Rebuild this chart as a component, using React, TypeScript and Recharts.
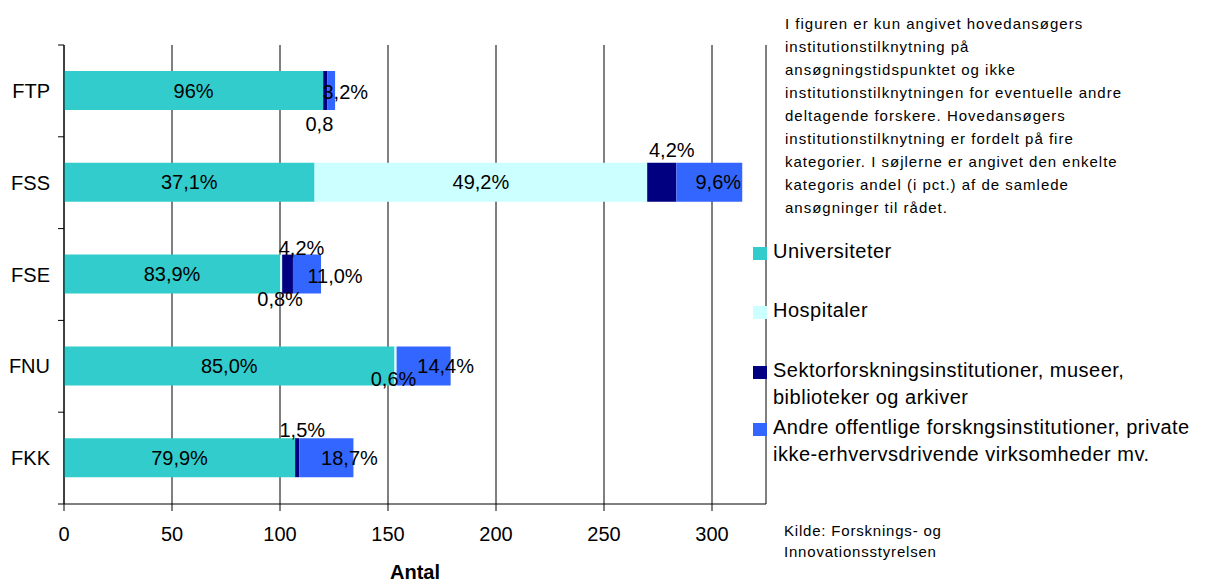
import React from 'react';
import { BarChart, Bar, XAxis, YAxis, CartesianGrid, LabelList, Label } from 'recharts';

// Data (Antal ansøgninger per råd)
const categories = ['FTP', 'FSS', 'FSE', 'FNU', 'FKK'];
const universiteter = [120, 116, 100, 153, 107];
const hospitaler = [0, 154, 1, 1, 0];
const sektor = [2, 13.5, 5, 0, 2];
const andre = [3.5, 30.5, 13, 25, 25];

// Percent labels as printed in the bars
const universiteterLabels = ['96%', '37,1%', '83,9%', '85,0%', '79,9%'];
const hospitalerLabels = ['', '49,2%', '0,8%', '0,6%', ''];
const sektorLabels = ['0,8', '4,2%', '4,2%', '', '1,5%'];
const andreLabels = ['3,2%', '9,6%', '11,0%', '14,4%', '18,7%'];

const xTicks = [0, 50, 100, 150, 200, 250, 300];
const xMax = 325;

const seriesNames = [
  'Universiteter',
  'Hospitaler',
  'Sektorforskningsinstitutioner, museer,\nbiblioteker og arkiver',
  'Andre offentlige forskngsinstitutioner, private\nikke-erhvervsdrivende virksomheder mv.',
];

const noteLines = [
  'I figuren er kun angivet hovedansøgers',
  'institutionstilknytning på',
  'ansøgningstidspunktet og ikke',
  'institutionstilknytningen for eventuelle andre',
  'deltagende forskere. Hovedansøgers',
  'institutionstilknytning er fordelt på fire',
  'kategorier. I søjlerne er angivet den enkelte',
  'kategoris andel (i pct.) af de samlede',
  'ansøgninger til rådet.',
];
const sourceLines = ['Kilde: Forsknings- og', 'Innovationsstyrelsen'];

const FONT = '"Liberation Sans", Arial, sans-serif';
const COLORS = ['#33CCCC', '#CCFFFF', '#000080', '#3366FF'];

// manual nudges for the small segment labels (like the moved labels in the original)
const labelNudge: Record<string, [number, number]> = {
  'hosp-2': [-1, 25],
  'hosp-3': [-2, 13],
  'sektor-0': [-6, 33],
  'sektor-1': [10, -32],
  'sektor-2': [14, -26],
  'sektor-4': [5, -28],
  'andre-0': [14, 1],
  'andre-1': [9, 0],
  'andre-2': [28, 2],
  'andre-3': [22, 0],
  'andre-4': [23, 0],
};

const series = [
  { key: 'univ', values: universiteter, labels: universiteterLabels },
  { key: 'hosp', values: hospitaler, labels: hospitalerLabels },
  { key: 'sektor', values: sektor, labels: sektorLabels },
  { key: 'andre', values: andre, labels: andreLabels },
].map((s, i) => ({ ...s, name: seriesNames[i], color: COLORS[i] }));

const data = categories.map((name, i) => {
  const row: any = { name, idx: String(i) };
  series.forEach((s) => { row[s.key] = s.values[i]; });
  return row;
});

const W = 1206;
const H = 585;
const TOP = 45;
const X_AXIS_H = 81;
const Y_TICK_SIZE = 6;
const Y_TICK_MARGIN = 8;

// value of the LabelList is the category index, so zero-width segments don't shift things
const makeSegLabel = (key: string, labels: string[]) => (props: any) => {
  const vb = props.viewBox || props;
  const idx = Number(props.value);
  const text = labels[idx];
  if (!text) return null;
  const x = Number(vb.x);
  const y = Number(vb.y);
  const w = Number(vb.width);
  const h = Number(vb.height);
  const [dx, dy] = labelNudge[`${key}-${idx}`] || [0, 0];
  return (
    <text
      x={x + w / 2 + dx}
      y={y + h / 2 + dy}
      dy="0.35em"
      textAnchor="middle"
      fontSize={20}
      fontFamily={FONT}
      fill="#000"
    >
      {text}
    </text>
  );
};

const CategoryTick = (props: any) => {
  const { x, y, payload, index } = props;
  const half = payload && payload.offset ? payload.offset : (H - TOP - X_AXIS_H) / categories.length / 2;
  const axisX = x + Y_TICK_SIZE + Y_TICK_MARGIN;
  return (
    <g>
      <text x={x} y={y} dy="0.355em" textAnchor="end" fontSize={20} fontFamily={FONT} fill="#000">
        {payload.value}
      </text>
      <line x1={axisX - Y_TICK_SIZE} x2={axisX} y1={y - half} y2={y - half} stroke="#000" />
      {index === categories.length - 1 && (
        <line x1={axisX - Y_TICK_SIZE} x2={axisX} y1={y + half} y2={y + half} stroke="#000" />
      )}
    </g>
  );
};

const legendTops = [238, 297, 357, 414];

export default function App() {
  return (
    <div style={{ position: 'absolute', left: 0, top: 0, width: W, height: H, background: '#fff', fontFamily: FONT }}>
      <BarChart
        width={W}
        height={H}
        data={data}
        layout="vertical"
        margin={{ top: TOP, right: 440, left: 4, bottom: 0 }}
        barSize={39}
      >
        <CartesianGrid horizontal={false} stroke="#000" strokeDasharray="" />
        <XAxis
          type="number"
          domain={[0, xMax]}
          ticks={xTicks}
          height={X_AXIS_H}
          tickSize={7}
          tickMargin={16}
          axisLine={{ stroke: '#000' }}
          tickLine={{ stroke: '#000' }}
          tick={{ fill: '#000', fontSize: 20, fontFamily: FONT }}
        >
          <Label
            value="Antal"
            position="insideBottom"
            offset={6}
            style={{ fontWeight: 'bold', fontSize: 20, fontFamily: FONT, fill: '#000' }}
          />
        </XAxis>
        <YAxis
          type="category"
          dataKey="name"
          width={60}
          tickSize={Y_TICK_SIZE}
          tickMargin={Y_TICK_MARGIN}
          tickLine={false}
          axisLine={{ stroke: '#000' }}
          tick={<CategoryTick />}
          interval={0}
        />
        {series.map((s) => (
          <Bar key={s.key} dataKey={s.key} name={s.name} stackId="a" fill={s.color} isAnimationActive={false}>
            <LabelList dataKey="idx" content={makeSegLabel(s.key, s.labels)} />
          </Bar>
        ))}
      </BarChart>

      <div style={{ position: 'absolute', left: 785, top: 12, fontSize: 15, lineHeight: '23px', letterSpacing: 1, color: '#000', whiteSpace: 'nowrap' }}>
        {noteLines.map((l, i) => (
          <div key={i}>{l}</div>
        ))}
      </div>

      {series.map((s, i) => (
        <div
          key={s.key}
          style={{ position: 'absolute', left: 773, top: legendTops[i], fontSize: 20, lineHeight: '26.5px', letterSpacing: 0.5, color: '#000', whiteSpace: 'pre' }}
        >
          <span style={{ position: 'absolute', left: -20, top: 9, width: 14, height: 13, background: s.color }} />
          {s.name}
        </div>
      ))}

      <div style={{ position: 'absolute', left: 784, top: 520, fontSize: 15, lineHeight: '21px', letterSpacing: 0.8, color: '#000', whiteSpace: 'nowrap' }}>
        {sourceLines.map((l, i) => (
          <div key={i}>{l}</div>
        ))}
      </div>
    </div>
  );
}
